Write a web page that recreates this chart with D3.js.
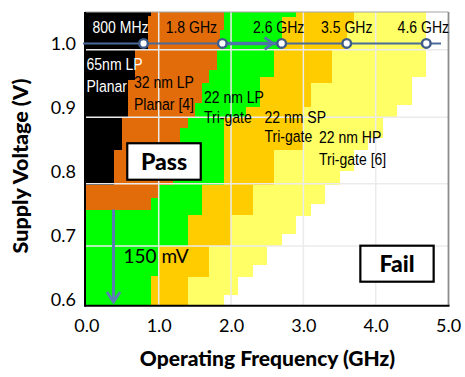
<!DOCTYPE html>
<html><head><meta charset="utf-8">
<script src="https://cdn.jsdelivr.net/npm/d3@7"></script>
<style>body{margin:0;background:#fff}</style>
</head><body><svg id="c" width="465" height="377"></svg>
<script>
// ---------- data ----------
const xTicks = [0, 1, 2, 3, 4, 5];
const yTicks = [0.6, 0.7, 0.8, 0.9, 1.0];
const gridFreqs = [1, 2, 3, 4];
const gridVolts = [0.990, 0.885, 0.781, 0.684];

// Shmoo steps (top to bottom): lower voltage bound of each step and max passing frequency (GHz)
const hpVolts = [0.948, 0.904, 0.885, 0.852, 0.834, 0.801, 0.780, 0.750, 0.731, 0.703, 0.684, 0.655, 0.636, 0.608, 0.591];
const hpFreqs = [4.7, 4.5, 4.3, 4.1, 3.9, 3.7, 3.5, 3.3, 3.1, 2.9, 2.7, 2.5, 2.3, 2.1, 1.9];
const spVolts = [1.031, 0.990, 0.938, 0.901, 0.834, 0.780, 0.733, 0.684, 0.636, 0.591];
const spFreqs = [3.7, 3.6, 3.4, 3.1, 3.0, 2.6, 2.3, 2.0, 1.7, 1.4];
const lpVolts = [1.041, 0.990, 0.947, 0.901, 0.885, 0.780, 0.733, 0.684, 0.637, 0.591];
const lpFreqs = [2.9, 2.7, 2.6, 2.4, 2.2, 1.9, 1.6, 1.4, 1.0, 0.9];
const p32Volts = [1.021, 0.990, 0.958, 0.938, 0.907, 0.885, 0.868, 0.829, 0.780, 0.759, 0.741];
const p32Freqs = [1.9, 1.85, 1.8, 1.7, 1.6, 1.5, 1.4, 1.3, 1.2, 1.0, 0.9];
const p65Volts = [1.043, 0.990, 0.943, 0.885, 0.834, 0.780];
const p65Freqs = [0.9, 0.85, 0.67, 0.58, 0.49, 0.38];

const techColors = ["#FFFF66", "#FFCC00", "#00FF00", "#E36C0A", "#000000"];

const markerFreqs = [0.79, 1.88, 2.70, 3.60, 4.70];
const markerLabels = ["800 MHz", "1.8 GHz", "2.6 GHz", "3.5 GHz", "4.6 GHz"];
const markerVolt = 1.0;

const techLabels = [
  {lines: ["65nm LP", "Planar"], color: "#fff"},
  {lines: ["32 nm LP", "Planar [4]"], color: "#000"},
  {lines: ["22 nm LP", "Tri-gate"], color: "#000"},
  {lines: ["22 nm SP", "Tri-gate"], color: "#000"},
  {lines: ["22 nm HP", "Tri-gate [6]"], color: "#000"}
];
const xTitle = "Operating Frequency (GHz)";
const yTitle = "Supply Voltage (V)";

// ---------- layout ----------
const svg = d3.select("#c");
const L = 85, R = 448.5, T = 12, B = 305.7;
const vTop = 1.049, vBot = 0.591;
const x = d3.scaleLinear().domain([0, 5]).range([86.4, 448]);
const y = d3.scaleLinear().domain([vBot, vTop]).range([B, T]);

const series = [
  [hpVolts, hpFreqs], [spVolts, spFreqs], [lpVolts, lpFreqs], [p32Volts, p32Freqs], [p65Volts, p65Freqs]
];
const gRegions = svg.append("g").attr("shape-rendering", "crispEdges");
series.forEach(([vs, fs], i) => {
  const steps = vs.map((v, k) => ({top: k === 0 ? vTop : vs[k - 1], bot: v, f: fs[k]}));
  gRegions.selectAll(null).data(steps).enter().append("rect")
    .attr("x", L)
    .attr("y", d => y(d.top))
    .attr("width", d => x(d.f) - L)
    .attr("height", d => y(d.bot) - y(d.top))
    .attr("fill", techColors[i]);
});

// gridlines
const gGrid = svg.append("g");
gGrid.selectAll(null).data(gridFreqs).enter().append("line")
  .attr("x1", d => x(d)).attr("x2", d => x(d)).attr("y1", T).attr("y2", B)
  .attr("stroke", "#ebebeb").attr("stroke-width", 1.5);
gGrid.selectAll(null).data(gridVolts).enter().append("line")
  .attr("x1", L).attr("x2", R).attr("y1", d => y(d)).attr("y2", d => y(d))
  .attr("stroke", "#ebebeb").attr("stroke-width", 1.5);

// frame
svg.append("line").attr("x1", L).attr("x2", R).attr("y1", T).attr("y2", T).attr("stroke", "#a6a6a6").attr("stroke-width", 1.2);
svg.append("line").attr("x1", R).attr("x2", R).attr("y1", T).attr("y2", B).attr("stroke", "#8c8c8c").attr("stroke-width", 1.8);
svg.append("line").attr("x1", L).attr("x2", L).attr("y1", T).attr("y2", B + 1).attr("stroke", "#000").attr("stroke-width", 2);
svg.append("line").attr("x1", L).attr("x2", R + 1).attr("y1", B).attr("y2", B).attr("stroke", "#000").attr("stroke-width", 2);

// axes
const fontAxis = "Lato, 'Open Sans', sans-serif";
const xAxis = svg.append("g").attr("transform", `translate(0,${B})`)
  .call(d3.axisBottom(x).tickValues(xTicks).tickFormat(d3.format(".1f")).tickSize(0).tickPadding(14));
xAxis.select(".domain").remove();
xAxis.selectAll("text").attr("font-family", fontAxis).attr("font-size", 18).attr("fill", "#000");
const yAxis = svg.append("g").attr("transform", `translate(${L},0)`)
  .call(d3.axisLeft(y).tickValues(yTicks).tickFormat(d3.format(".1f")).tickSize(0).tickPadding(9));
yAxis.select(".domain").remove();
yAxis.selectAll("text").attr("font-family", fontAxis).attr("font-size", 18).attr("fill", "#000");

svg.append("text").attr("x", 267.5).attr("y", 366).attr("text-anchor", "middle")
  .attr("font-family", fontAxis).attr("font-weight", 900).attr("font-size", 21).text(xTitle);
svg.append("text").attr("transform", "translate(28,166) rotate(-90)").attr("text-anchor", "middle")
  .attr("font-family", fontAxis).attr("font-weight", 900).attr("font-size", 21.5).text(yTitle);

// condensed text helper (Arial Narrow look)
const sans = "'Liberation Sans', Arial, sans-serif";
function narrowText(tx, ty, s, color, anchor) {
  return svg.append("text")
    .attr("transform", `translate(${tx},${ty}) scale(0.85,1)`)
    .attr("text-anchor", anchor || "start")
    .attr("font-family", sans).attr("font-size", 16.5).attr("fill", color).text(s);
}

// frequency markers at 1.0 V
const yLine = y(markerVolt);
svg.append("line").attr("x1", L - 2).attr("x2", 441).attr("y1", yLine).attr("y2", yLine)
  .attr("stroke", "#4A6B9A").attr("stroke-width", 2);
svg.append("line").attr("x1", x(markerFreqs[1])).attr("x2", x(markerFreqs[2]) - 4).attr("y1", yLine).attr("y2", yLine)
  .attr("stroke", "#4F74A8").attr("stroke-width", 3.5);
const ax = x(markerFreqs[2]) - 9;
svg.append("polyline").attr("points", `${ax - 8},${yLine - 6} ${ax},${yLine} ${ax - 8},${yLine + 6}`)
  .attr("fill", "none").attr("stroke", "#4F74A8").attr("stroke-width", 3);
svg.selectAll(null).data(markerFreqs).enter().append("circle")
  .attr("cx", d => x(d)).attr("cy", yLine).attr("r", 4.3)
  .attr("fill", "#fff").attr("stroke", "#3E5C8A").attr("stroke-width", 2.4);
const labelShift = [-23, -31, -3, 0, -3];
markerLabels.forEach((s, i) => narrowText(x(markerFreqs[i]) + labelShift[i], 33, s, i === 0 ? "#fff" : "#000", "middle"));

// technology labels
const techPos = [[86.5, 70, 91.7], [134, 88.3, 110], [204, 102.5, 123], [264.5, 122.7, 141.7], [319, 142.7, 165]];
techLabels.forEach((t, i) => {
  t.lines.forEach((s, k) => narrowText(techPos[i][0], techPos[i][k + 1], s, t.color));
});

// 150 mV arrow
const arrowColor = "#5A7DB3";
const axX = 113.5;
svg.append("line").attr("x1", axX).attr("x2", axX).attr("y1", y(0.741)).attr("y2", 302)
  .attr("stroke", arrowColor).attr("stroke-width", 3);
svg.append("polyline").attr("points", `${axX - 6.5},${292} ${axX},${302} ${axX + 6.5},${292}`)
  .attr("fill", "none").attr("stroke", arrowColor).attr("stroke-width", 3);
svg.append("text").attr("x", 123.5).attr("y", 263).attr("font-family", fontAxis).attr("font-size", 19).text("150 mV");

// Pass / Fail boxes
function box(cx, cy, w, h, label) {
  svg.append("rect").attr("x", cx - w / 2).attr("y", cy - h / 2).attr("width", w).attr("height", h)
    .attr("fill", "#fff").attr("stroke", "#000").attr("stroke-width", 2.2);
  svg.append("text").attr("x", cx).attr("y", cy + 8).attr("text-anchor", "middle")
    .attr("font-family", fontAxis).attr("font-weight", 900).attr("font-size", 23).text(label);
}
box(164, 161.5, 73.5, 36.5, "Pass");
box(397, 263.7, 73.3, 36, "Fail");
</script></body></html>
